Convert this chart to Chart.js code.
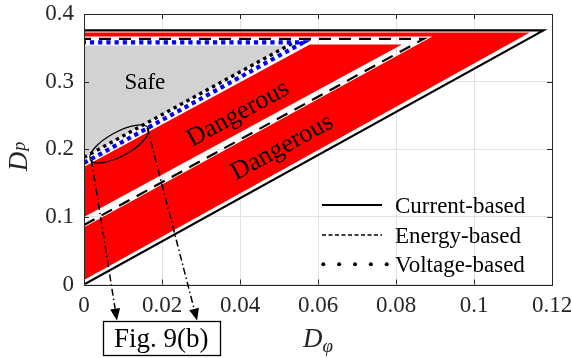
<!DOCTYPE html>
<html>
<head>
<meta charset="utf-8">
<script src="https://cdn.jsdelivr.net/npm/chart.js@4/dist/chart.umd.min.js"></script>
<style>
  html, body { margin: 0; padding: 0; background: #fff; }
  canvas { display: block; }
</style>
</head>
<body>
<canvas id="chart" width="572" height="358"></canvas>
<script>
// Axis ticks
const xTicks = [0, 0.02, 0.04, 0.06, 0.08, 0.1, 0.12];
const xTickLabels = ['0', '0.02', '0.04', '0.06', '0.08', '0.1', '0.12'];
const yTicks = [0, 0.1, 0.2, 0.3, 0.4];
const yTickLabels = ['0', '0.1', '0.2', '0.3', '0.4'];

// Boundaries in the (Dφ, Dp) plane
const currentDphi = [0, 0.1178, 0];
const currentDp   = [0, 0.3757, 0.3757];
const energyDphi  = [0, 0.0871, 0];
const energyDp    = [0.088, 0.3632, 0.3632];
const voltageDphi = [0, 0.0535];
const voltageDp   = [0.188, 0.357];
const limitDphi   = [0, 0.0562, 0];
const limitDp     = [0.1797, 0.358, 0.358];

// Shaded operating regions
const dangerLowDphi  = [0, 0.1143, 0, 0, 0.0893, 0];
const dangerLowDp    = [0.0065, 0.3728, 0.3728, 0.3669, 0.3669, 0.0846];
const dangerHighDphi = [0, 0.0815, 0.0579, 0];
const dangerHighDp   = [0.100, 0.355, 0.355, 0.174];
const safeDphi       = [0, 0.0524, 0];
const safeDp         = [0.188, 0.3536, 0.3536];

// Region labels (Dφ, Dp of the text centre)
const safeLabelAt   = [0.0156, 0.298];
const dangerLabelAt = [[0.0395, 0.2522], [0.0508, 0.2027]];

// Zoom callout: ellipse centre and the two arrows (start, tip)
const calloutCentre = [0.00905, 0.2078];
const calloutArrows = [
  [[0.0019, 0.1842], [0.00846, -0.0533]],
  [[0.0162, 0.2322], [0.0290, -0.0533]]
];
const calloutBoxAt = [0.0198, -0.0791];

const pts = (xs, ys) => xs.map((x, i) => ({ x, y: ys[i] }));

const region = (label, xs, ys, color, order) => ({
  label, data: pts(xs, ys), fill: 'shape', backgroundColor: color,
  borderColor: 'rgba(0,0,0,0)', borderWidth: 0, pointRadius: 0, order
});
const boundary = (label, xs, ys, color, width, dash, order) => ({
  label, data: pts(xs, ys), fill: false, borderColor: color, borderWidth: width,
  borderDash: dash, borderCapStyle: 'butt', borderJoinStyle: 'miter',
  pointRadius: 0, tension: 0, order
});

const INK = '#262626';
const SERIF = '"Liberation Serif"';

const decor = {
  id: 'decor',
  afterDatasetsDraw(chart) {
    const { ctx, chartArea: a, scales: { x, y } } = chart;
    ctx.save();
    ctx.strokeStyle = INK;
    ctx.lineWidth = 1;
    ctx.beginPath();
    xTicks.forEach(v => {
      const px = Math.round(x.getPixelForValue(v)) + 0.5;
      ctx.moveTo(px, a.bottom); ctx.lineTo(px, a.bottom - 5);
      ctx.moveTo(px, a.top);    ctx.lineTo(px, a.top + 5);
    });
    yTicks.forEach(v => {
      const py = Math.round(y.getPixelForValue(v)) + 0.5;
      ctx.moveTo(a.left, py);  ctx.lineTo(a.left + 5, py);
      ctx.moveTo(a.right, py); ctx.lineTo(a.right - 5, py);
    });
    ctx.stroke();
    ctx.strokeRect(Math.round(a.left) + 0.5, Math.round(a.top) + 0.5,
                   Math.round(a.right - a.left), Math.round(a.bottom - a.top));
    ctx.restore();
  },
  afterDraw(chart) {
    const { ctx, chartArea: a, scales: { x, y } } = chart;
    const P = (p) => [x.getPixelForValue(p[0]), y.getPixelForValue(p[1])];
    ctx.save();

    // Region labels
    ctx.fillStyle = '#000';
    ctx.textAlign = 'center';
    ctx.textBaseline = 'middle';
    ctx.font = `23px ${SERIF}`;
    const s = P(safeLabelAt);
    ctx.fillText('Safe', s[0], s[1]);
    const e0 = P([energyDphi[0], energyDp[0]]), e1 = P([energyDphi[1], energyDp[1]]);
    const ang = Math.atan2(e1[1] - e0[1], e1[0] - e0[0]);
    ctx.font = `26px ${SERIF}`;
    dangerLabelAt.forEach(p => {
      const q = P(p);
      ctx.save();
      ctx.translate(q[0], q[1]);
      ctx.rotate(ang);
      ctx.fillText('Dangerous', 0, 0);
      ctx.restore();
    });

    // Callout ellipse
    const c = P(calloutCentre);
    ctx.strokeStyle = '#000';
    ctx.lineWidth = 1.3;
    ctx.beginPath();
    ctx.ellipse(c[0], c[1], 33, 12, ang, 0, Math.PI * 2);
    ctx.stroke();

    // Dash-dot arrows down to the box
    calloutArrows.forEach(([from, to]) => {
      const p0 = P(from), p1 = P(to);
      const dx = p1[0] - p0[0], dy = p1[1] - p0[1];
      const len = Math.hypot(dx, dy), ux = dx / len, uy = dy / len;
      const head = 12, half = 5;
      const bx = p1[0] - ux * head, by = p1[1] - uy * head;
      ctx.setLineDash([7, 3, 1.5, 3]);
      ctx.lineWidth = 1.5;
      ctx.beginPath();
      ctx.moveTo(p0[0], p0[1]);
      ctx.lineTo(bx, by);
      ctx.stroke();
      ctx.setLineDash([]);
      ctx.fillStyle = '#000';
      ctx.beginPath();
      ctx.moveTo(p1[0], p1[1]);
      ctx.lineTo(bx - uy * half, by + ux * half);
      ctx.lineTo(bx + uy * half, by - ux * half);
      ctx.closePath();
      ctx.fill();
    });

    // Box with the figure reference
    const b = P(calloutBoxAt);
    const bw = 117, bh = 34;
    ctx.fillStyle = '#fff';
    ctx.fillRect(b[0] - bw / 2, b[1] - bh / 2, bw, bh);
    ctx.lineWidth = 1.3;
    ctx.strokeStyle = '#000';
    ctx.strokeRect(Math.round(b[0] - bw / 2) + 0.5, Math.round(b[1] - bh / 2) + 0.5, bw, bh);
    ctx.fillStyle = '#000';
    ctx.font = `27px ${SERIF}`;
    ctx.textAlign = 'center';
    ctx.textBaseline = 'alphabetic';
    ctx.fillText('Fig. 9(b)', b[0], b[1] + 9);

    // Axis titles
    ctx.fillStyle = INK;
    ctx.textAlign = 'left';
    const xc = (a.left + a.right) / 2;
    ctx.font = `italic 27px ${SERIF}`;
    const dW = ctx.measureText('D').width;
    ctx.font = `italic 19px ${SERIF}`;
    const phW = ctx.measureText('\u03C6').width;
    const x0 = xc - (dW + phW) / 2;
    ctx.font = `italic 27px ${SERIF}`;
    ctx.fillText('D', x0, 347);
    ctx.font = `italic 19px ${SERIF}`;
    ctx.fillText('\u03C6', x0 + dW, 352);

    ctx.save();
    ctx.translate(27, (a.top + a.bottom) / 2 + 22);
    ctx.rotate(-Math.PI / 2);
    ctx.font = `italic 27px ${SERIF}`;
    ctx.fillText('D', 0, 0);
    ctx.font = `italic 18px ${SERIF}`;
    ctx.fillText('p', dW + 1, -2);
    ctx.restore();

    // Legend
    const rows = [
      { text: 'Current-based', lineY: a.bottom - 79.5, baseY: a.bottom - 71.5 },
      { text: 'Energy-based',  lineY: a.bottom - 49.5, baseY: a.bottom - 41.5 },
      { text: 'Voltage-based', lineY: a.bottom - 20.2, baseY: a.bottom - 12.8 }
    ];
    const lx0 = a.right - 230, lx1 = a.right - 170, tx = a.right - 157;
    ctx.strokeStyle = '#000';
    ctx.lineWidth = 2;
    ctx.beginPath(); ctx.moveTo(lx0, rows[0].lineY); ctx.lineTo(lx1, rows[0].lineY); ctx.stroke();
    ctx.lineWidth = 1.3;
    ctx.setLineDash([4, 2.5]);
    ctx.beginPath(); ctx.moveTo(lx0, rows[1].lineY); ctx.lineTo(lx1, rows[1].lineY); ctx.stroke();
    ctx.setLineDash([]);
    ctx.fillStyle = '#000';
    for (let i = 0; i < 5; i++) {
      ctx.beginPath();
      ctx.arc(lx0 + 1.3 + i * 15.85, rows[2].lineY, 2, 0, Math.PI * 2);
      ctx.fill();
    }
    ctx.font = `23px ${SERIF}`;
    ctx.fillStyle = '#000';
    rows.forEach(r => ctx.fillText(r.text, tx, r.baseY));

    ctx.restore();
  }
};

const chart = new Chart(document.getElementById('chart'), {
  type: 'line',
  data: {
    datasets: [
      region('Dangerous (energy vs. current)', dangerLowDphi, dangerLowDp, '#ff0000', 9),
      region('Dangerous (voltage vs. energy)', dangerHighDphi, dangerHighDp, '#ff0000', 8),
      region('Safe', safeDphi, safeDp, '#d2d2d2', 7),
      boundary('Current-based', currentDphi, currentDp, '#000', 2.2, [], 4),
      boundary('Energy-based', energyDphi, energyDp, '#000', 2.2, [12, 8], 3),
      boundary('Voltage-based', voltageDphi, voltageDp, '#000', 3.4, [3.4, 3.9], 2),
      boundary('Limit', limitDphi, limitDp, '#0000ff', 4.2, [4.2, 4], 1)
    ]
  },
  options: {
    responsive: false,
    animation: false,
    devicePixelRatio: 1,
    events: [],
    layout: { padding: { left: 0, right: 20, top: 14, bottom: 0 } },
    plugins: { legend: { display: false }, tooltip: { enabled: false } },
    scales: {
      x: {
        type: 'linear', min: 0, max: 0.12,
        afterBuildTicks: s => { s.ticks = xTicks.map(v => ({ value: v })); },
        afterFit: s => { s.height = 73.5; s.paddingLeft = 0; s.paddingRight = 0; },
        ticks: {
          callback: (v, i) => xTickLabels[i],
          font: { family: SERIF, size: 23 }, color: INK, padding: 8,
          maxRotation: 0, autoSkip: false
        },
        grid: { color: '#e2e2e2', lineWidth: 1, drawTicks: false },
        border: { display: false }
      },
      y: {
        type: 'linear', min: 0, max: 0.4,
        afterBuildTicks: s => { s.ticks = yTicks.map(v => ({ value: v })); },
        afterFit: s => { s.width = 84; s.paddingTop = 0; s.paddingBottom = 0; },
        ticks: {
          callback: (v, i) => yTickLabels[i],
          font: { family: SERIF, size: 23 }, color: INK, padding: 10,
          autoSkip: false
        },
        grid: { color: '#e2e2e2', lineWidth: 1, drawTicks: false },
        border: { display: false }
      }
    }
  },
  plugins: [decor]
});

// Repaint once the page has settled so every label uses the serif face
requestAnimationFrame(() => chart.draw());
setTimeout(() => chart.draw(), 60);
</script>
</body>
</html>
